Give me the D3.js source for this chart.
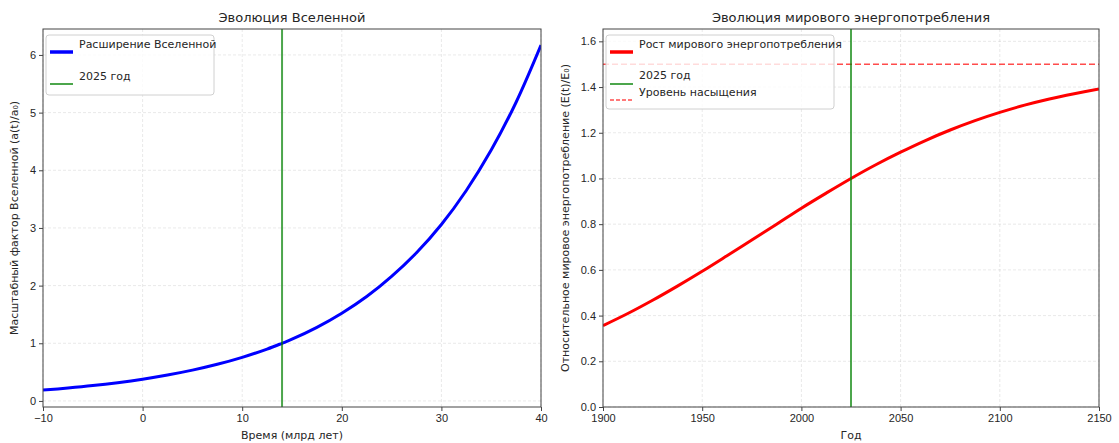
<!DOCTYPE html>
<html>
<head>
<meta charset="utf-8">
<script src="https://cdn.jsdelivr.net/npm/d3@7"></script>
<style>
  body { margin: 0; background: #fff; }
  svg { font-family: "DejaVu Sans", sans-serif; }
</style>
</head>
<body>
<svg id="chart" width="1119" height="443"></svg>
<script>
// Left panel: scale factor of the Universe
let timeGyr = [-10, -7.5, -5, -2.5, 0, 2.5, 5, 7.5, 10, 12.5, 14, 15, 17.5, 20, 22.5, 25, 27.5, 30, 32.5, 35, 37.5, 40]
let scaleFactor = [0.188, 0.224, 0.266, 0.317, 0.377, 0.449, 0.534, 0.635, 0.756, 0.90, 1.0, 1.07, 1.275, 1.52, 1.81, 2.16, 2.57, 3.06, 3.65, 4.35, 5.18, 6.17]
let leftXTicks = [-10, 0, 10, 20, 30, 40]
let leftYTicks = [0, 1, 2, 3, 4, 5, 6]
let nowGyr = 14

// Right panel: world energy consumption
let years = [1900, 1912.5, 1925, 1937.5, 1950, 1962.5, 1975, 1987.5, 2000, 2012.5, 2025, 2037.5, 2050, 2062.5, 2075, 2087.5, 2100, 2112.5, 2125, 2137.5, 2150]
let energy = [0.356, 0.409, 0.467, 0.529, 0.594, 0.662, 0.731, 0.800, 0.870, 0.936, 1.0, 1.060, 1.115, 1.166, 1.212, 1.253, 1.289, 1.321, 1.348, 1.371, 1.392]
let rightXTicks = [1900, 1950, 2000, 2050, 2100, 2150]
let rightYTicks = [0, 0.2, 0.4, 0.6, 0.8, 1.0, 1.2, 1.4, 1.6]
let nowYear = 2025
let saturation = 1.5

let svg = d3.select("#chart")
let textColor = "#262626"

let drawPanel = (opt) => {
  let x = d3.scaleLinear().domain(opt.xDomain).range([opt.left, opt.right])
  let y = d3.scaleLinear().domain(opt.yDomain).range([opt.bottom, opt.top])
  let g = svg.append("g")

  // grid
  g.append("g").selectAll("line").data(opt.xTicks).enter().append("line")
    .attr("x1", d => x(d)).attr("x2", d => x(d))
    .attr("y1", opt.top).attr("y2", opt.bottom)
    .attr("stroke", "#b0b0b0").attr("stroke-opacity", 0.35)
    .attr("stroke-dasharray", "3,2").attr("stroke-width", 0.8)
  g.append("g").selectAll("line").data(opt.yTicks).enter().append("line")
    .attr("x1", opt.left).attr("x2", opt.right)
    .attr("y1", d => y(d)).attr("y2", d => y(d))
    .attr("stroke", "#b0b0b0").attr("stroke-opacity", 0.35)
    .attr("stroke-dasharray", "3,2").attr("stroke-width", 0.8)

  let clipId = "clip" + opt.left
  svg.append("clipPath").attr("id", clipId).append("rect")
    .attr("x", opt.left).attr("y", opt.top)
    .attr("width", opt.right - opt.left).attr("height", opt.bottom - opt.top)
  let plot = g.append("g").attr("clip-path", "url(#" + clipId + ")")

  if (opt.hline !== undefined) {
    plot.append("line")
      .attr("x1", opt.left).attr("x2", opt.right)
      .attr("y1", y(opt.hline)).attr("y2", y(opt.hline))
      .attr("stroke", "red").attr("stroke-opacity", 0.7)
      .attr("stroke-width", 1.5).attr("stroke-dasharray", "6,3")
  }

  let line = d3.line().x((d, i) => x(opt.xs[i])).y(d => y(d)).curve(d3.curveCatmullRom)
  plot.append("path").datum(opt.ys)
    .attr("d", line)
    .attr("fill", "none").attr("stroke", opt.color).attr("stroke-width", 3)

  plot.append("line")
    .attr("x1", x(opt.now)).attr("x2", x(opt.now))
    .attr("y1", opt.top).attr("y2", opt.bottom)
    .attr("stroke", "green").attr("stroke-opacity", 0.7).attr("stroke-width", 2)

  // axes
  let xAxis = d3.axisBottom(x).tickValues(opt.xTicks).tickSize(4).tickPadding(3).tickFormat(opt.xFormat)
  let yAxis = d3.axisLeft(y).tickValues(opt.yTicks).tickSize(4).tickPadding(3).tickFormat(opt.yFormat)
  let gx = g.append("g").attr("transform", "translate(0," + opt.bottom + ")").call(xAxis)
  let gy = g.append("g").attr("transform", "translate(" + opt.left + ",0)").call(yAxis)
  ;[gx, gy].forEach(a => {
    a.select(".domain").remove()
    a.selectAll("line").attr("stroke", "#444")
    a.selectAll("text").attr("fill", textColor).style("font-size", "11px")
  })

  g.append("rect")
    .attr("x", opt.left).attr("y", opt.top)
    .attr("width", opt.right - opt.left).attr("height", opt.bottom - opt.top)
    .attr("fill", "none").attr("stroke", "#444").attr("stroke-width", 1)

  // labels
  g.append("text").attr("x", (opt.left + opt.right) / 2).attr("y", 22)
    .attr("text-anchor", "middle").attr("fill", textColor).style("font-size", "13px")
    .text(opt.title)
  g.append("text").attr("x", (opt.left + opt.right) / 2).attr("y", 439)
    .attr("text-anchor", "middle").attr("fill", textColor).style("font-size", "11px")
    .text(opt.xLabel)
  g.append("text")
    .attr("transform", "translate(" + opt.yLabelX + "," + ((opt.top + opt.bottom) / 2) + ") rotate(-90)")
    .attr("text-anchor", "middle").attr("fill", textColor).style("font-size", "11px")
    .text(opt.yLabel)

  // legend
  let lg = g.append("g")
  lg.append("rect")
    .attr("x", opt.legend.x).attr("y", opt.legend.y)
    .attr("width", opt.legend.w).attr("height", opt.legend.h)
    .attr("rx", 3).attr("fill", "#fff").attr("fill-opacity", 0.8)
    .attr("stroke", "#d0d0d0").attr("stroke-width", 1)
  opt.legend.items.forEach(it => {
    lg.append("line")
      .attr("x1", opt.legend.x + 4).attr("x2", opt.legend.x + 27)
      .attr("y1", it.ly).attr("y2", it.ly)
      .attr("stroke", it.color).attr("stroke-width", it.width)
      .attr("stroke-opacity", it.opacity)
      .attr("stroke-dasharray", it.dash)
    lg.append("text")
      .attr("x", opt.legend.x + 33).attr("y", it.ty)
      .attr("dy", "0.35em").attr("fill", textColor).style("font-size", "11px")
      .text(it.label)
  })
}

drawPanel({
  left: 43, right: 541, top: 29, bottom: 407,
  xDomain: [-10, 40], yDomain: [-0.105, 6.45],
  xs: timeGyr, ys: scaleFactor, color: "blue", now: nowGyr,
  xTicks: leftXTicks, yTicks: leftYTicks,
  xFormat: d3.format("d"), yFormat: d3.format("d"),
  title: "Эволюция Вселенной",
  xLabel: "Время (млрд лет)",
  yLabel: "Масштабный фактор Вселенной (a(t)/a₀)",
  yLabelX: 18,
  legend: { x: 46, y: 35, w: 168, h: 60, items: [
    { label: "Расширение Вселенной", color: "blue", width: 3.5, opacity: 1, dash: null, ly: 52, ty: 44 },
    { label: "2025 год", color: "green", width: 2, opacity: 0.7, dash: null, ly: 84, ty: 76 }
  ] }
})

drawPanel({
  left: 603, right: 1099, top: 29, bottom: 407,
  xDomain: [1900, 2150], yDomain: [0, 1.654],
  xs: years, ys: energy, color: "red", now: nowYear, hline: saturation,
  xTicks: rightXTicks, yTicks: rightYTicks,
  xFormat: d3.format("d"), yFormat: d3.format(".1f"),
  title: "Эволюция мирового энергопотребления",
  xLabel: "Год",
  yLabel: "Относительное мировое энергопотребление (E(t)/E₀)",
  yLabelX: 569,
  legend: { x: 606, y: 35, w: 228, h: 74, items: [
    { label: "Рост мирового энергопотребления", color: "red", width: 3.5, opacity: 1, dash: null, ly: 52, ty: 44 },
    { label: "2025 год", color: "green", width: 2, opacity: 0.7, dash: null, ly: 84, ty: 75 },
    { label: "Уровень насыщения", color: "red", width: 1.5, opacity: 0.7, dash: "4,2", ly: 100, ty: 92 }
  ] }
})
</script>
</body>
</html>
